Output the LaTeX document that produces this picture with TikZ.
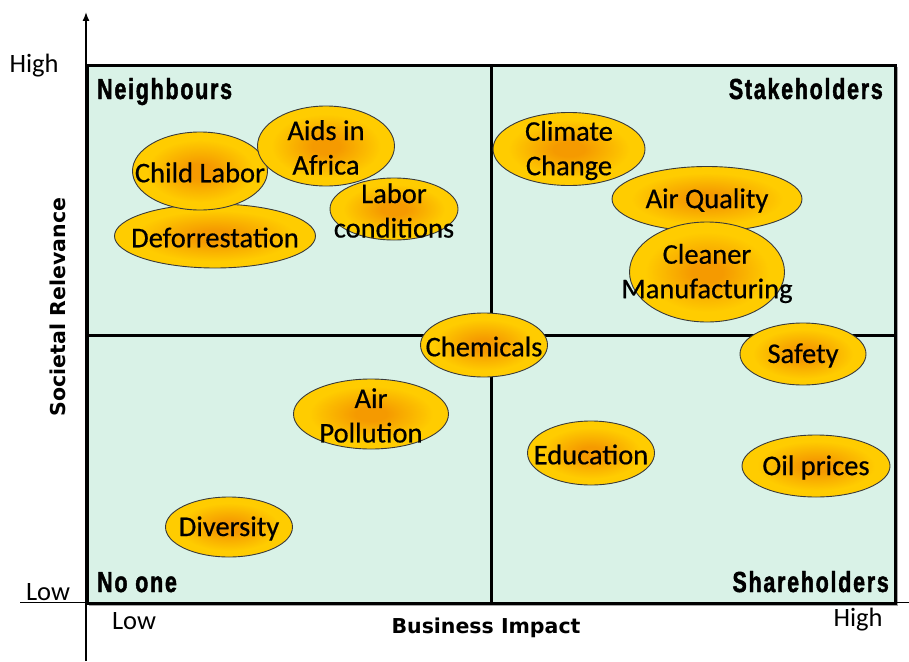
\documentclass[tikz,border=0pt]{standalone}
\usepackage{fontspec}
\setmainfont{Carlito}
\newfontfamily\blobfont[FakeBold=0.5]{Carlito}
\newfontfamily\quadfont[FakeStretch=0.74, FakeBold=1.5, LetterSpace=6]{Liberation Sans}
\newfontfamily\axisfont{DejaVu Sans}
\usetikzlibrary{shapes.geometric,arrows.meta}

\definecolor{panelfill}{HTML}{D9F2E7}
\definecolor{blobcore}{HTML}{F59A00}
\definecolor{blobrim}{HTML}{FFCC00}
\definecolor{blobedge}{HTML}{3A3A3A}
\pgfdeclareradialshading{blobshade}{\pgfpoint{0bp}{0bp}}{%
  color(0bp)=(blobcore); color(5bp)=(blobcore);
  color(20bp)=(blobrim); color(50bp)=(blobrim)}

\tikzset{
  blob/.style={ellipse, draw=blobedge, line width=0.9pt, shading=blobshade,
    inner sep=0pt, outer sep=0pt},
  blobtext/.style={align=center, inner sep=0pt, text=black, yshift=-1.5pt,
    font=\blobfont\fontsize{28.5}{34.5}\selectfont},
  quadlabel/.style={inner sep=0pt, font=\quadfont\bfseries\fontsize{29}{30}\selectfont},
  scalelabel/.style={inner sep=0pt, font=\fontsize{26.5}{30}\selectfont},
  axistitle/.style={inner sep=0pt, font=\axisfont\bfseries\fontsize{20.5}{24}\selectfont},
  divider/.style={line width=3pt, black},
  axisline/.style={line width=1.4pt, black},
}

% an issue bubble: fixed-size ellipse with its label laid over it
\newcommand\issue[5]{%
  \node[blob, minimum width=#3, minimum height=#4] (#1) at (#2) {};
  \node[blobtext] (#1-text) at (#1) {#5};}

\begin{document}
\begin{tikzpicture}[x=1pt, y=-1pt]
  \useasboundingbox (0,0) rectangle (909,661);

  % matrix panel with drop shadow
  \coordinate (panel-nw) at (87,65);
  \coordinate (panel-se) at (895,603);
  \fill[gray!70] (89,67) rectangle (898,606);
  \filldraw[fill=panelfill, draw=black, line width=3pt] (panel-nw) rectangle (panel-se);

  % quadrant dividers
  \coordinate (div-top) at (491,65);
  \coordinate (div-bottom) at (491,603);
  \coordinate (div-left) at (87,335);
  \coordinate (div-right) at (895,335);
  \draw[divider] (div-top) -- (div-bottom);
  \draw[divider] (div-left) -- (div-right);

  % axes
  \coordinate (yaxis-foot) at (86,661);
  \coordinate (yaxis-tip) at (86,12);
  \coordinate (xaxis-left) at (20,602);
  \coordinate (xaxis-right) at (909,602);
  \draw[axisline, -{Latex[length=9pt,width=7pt]}] (yaxis-foot) -- (yaxis-tip);
  \draw[line width=1pt] (xaxis-left) -- (xaxis-right);

  % quadrant names
  \node[quadlabel, anchor=base west] (q-nw) at (97,99) {Neighbours};
  \node[quadlabel, anchor=base east] (q-ne) at (883,99) {Stakeholders};
  \node[quadlabel, anchor=base west] (q-sw) at (97,592) {No one};
  \node[quadlabel, anchor=base east] (q-se) at (889,592) {Shareholders};

  % scale ends
  \node[scalelabel] (y-high) at (34,66) {High};
  \node[scalelabel] (y-low) at (48,592) {Low};
  \node[scalelabel] (x-low) at (134,621) {Low};
  \node[scalelabel] (x-high) at (858,620) {High};

  % axis titles
  \node[axistitle] (x-title) at (486,628) {Business Impact};
  \node[axistitle, rotate=90] (y-title) at (58,307) {Societal Relevance};

  % issues
  \issue{defor}{215,236}{201}{64}{Deforrestation}
  \issue{child}{200,171}{135}{78}{Child Labor}
  \issue{aids}{326,146}{137}{80}{Aids in\\Africa}
  \issue{laborc}{394,209}{128}{62}{Labor\\conditions}
  \issue{climate}{569,149}{152}{73}{Climate\\Change}
  \issue{airq}{707,199}{190}{65}{Air Quality}
  \issue{cleaner}{707,272}{155}{100}{Cleaner\\Manufacturing}
  \issue{chem}{484,345}{127}{64}{Chemicals}
  \issue{safety}{803,354}{126}{62}{Safety}
  \issue{airpol}{371,414}{155}{70}{Air\\Pollution}
  \issue{edu}{591,453}{127}{64}{Education}
  \issue{oil}{816,466}{148}{62}{Oil prices}
  \issue{div}{229,527}{127}{60}{Diversity}
\end{tikzpicture}
\end{document}
